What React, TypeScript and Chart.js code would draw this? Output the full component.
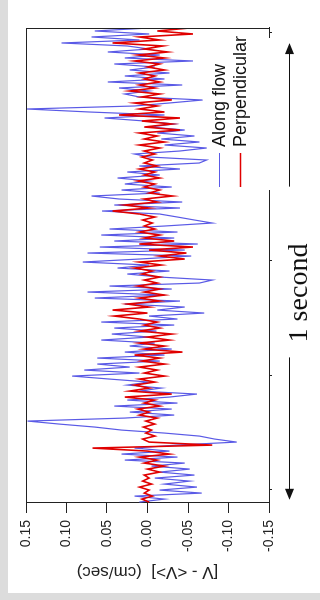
import React, { useEffect, useRef } from "react";
import { Chart, registerables } from "chart.js";

Chart.register(...registerables);

// ---- data -------------------------------------------------------------
const TIME_START = -0.028; // s, first sample
const SAMPLE_STEP = 0.00657; // s, sampling interval

const alongFlow = [
  0.010, -0.021, 0.016, -0.067, -0.015, -0.061, -0.021, -0.052, -0.009, -0.058,
  -0.015, -0.052, -0.005, -0.046, 0.028, -0.037, 0.032, -0.027, 0.016, -0.036,
  -0.110, -0.083, -0.064, -0.021, 0.032, 0.065, 0.109, 0.148, 0.028, -0.033,
  0.022, -0.030, 0.041, -0.037, 0.025, -0.027, -0.061, 0.010, -0.017, 0.025,
  -0.002, 0.047, 0.093, 0.010, 0.078, 0.022, 0.062, -0.015, 0.062, -0.021,
  0.028, -0.030, 0.022, -0.009, 0.057, -0.002, 0.044, -0.011, 0.041, -0.033,
  0.057, -0.037, -0.002, -0.070, -0.012, -0.046, 0.028, -0.040, 0.065, -0.021,
  0.074, -0.030, 0.047, -0.064, -0.080, -0.015, 0.025, -0.027, 0.037, -0.002,
  0.080, 0.010, -0.054, 0.074, -0.046, 0.059, -0.062, 0.041, -0.033, 0.057,
  -0.037, 0.047, -0.021, -0.080, -0.058, -0.037, -0.015, 0.056, -0.040, 0.041,
  -0.043, 0.035, 0.069, -0.015, 0.032, -0.030, 0.028, -0.002, 0.037, -0.015,
  0.025, -0.040, 0.010, -0.064, -0.073, -0.002, 0.016, -0.040, -0.073, -0.021,
  -0.064, -0.017, -0.058, -0.012, -0.046, -0.002, -0.033, 0.004, 0.053, -0.021,
  0.072, 0.149, 0.016, -0.027, -0.068, 0.010, 0.028, -0.002, 0.035, -0.043,
  0.049, -0.021, 0.028, -0.027, 0.022, -0.009, 0.041, -0.056, 0.028, -0.015,
  0.049, -0.002, 0.025, 0.106, 0.010, 0.069, -0.002, 0.065, -0.002,
];

const perpendicular = [
  -0.002, 0.007, -0.006, 0.004, -0.002, 0.010, -0.005, 0.006, -0.002, 0.004,
  -0.015, 0.000, -0.021, 0.004, -0.012, 0.010, -0.027, 0.000, 0.068, -0.080,
  -0.002, 0.006, -0.009, 0.002, -0.005, 0.005, -0.009, 0.002, -0.012, 0.010,
  -0.002, 0.012, -0.015, 0.004, -0.009, 0.028, -0.030, 0.022, -0.002, 0.016,
  -0.009, 0.010, -0.021, 0.004, -0.012, 0.010, -0.021, 0.007, -0.015, 0.016,
  -0.043, 0.004, -0.021, 0.010, -0.027, 0.000, -0.030, 0.010, -0.015, 0.004,
  -0.012, 0.010, 0.041, 0.000, 0.043, -0.002, 0.025, -0.015, 0.010, -0.021,
  0.004, -0.015, 0.012, -0.012, 0.004, -0.015, 0.007, -0.006, 0.016, -0.017,
  0.010, -0.046, -0.015, -0.048, -0.002, -0.056, 0.010, -0.033, 0.004, -0.015,
  0.010, -0.009, 0.004, -0.006, 0.006, -0.009, 0.010, 0.043, -0.002, 0.028,
  -0.012, 0.004, -0.031, -0.002, -0.015, 0.004, -0.009, 0.012, -0.015, 0.004,
  -0.009, 0.010, -0.012, 0.004, -0.006, 0.007, -0.009, 0.004, -0.015, 0.010,
  -0.021, 0.004, -0.012, 0.010, -0.040, 0.004, -0.030, 0.007, -0.040, 0.035,
  -0.021, 0.010, -0.012, 0.016, -0.030, 0.007, -0.015, 0.022, -0.009, 0.010,
  -0.015, 0.004, -0.009, 0.010, -0.021, 0.000, -0.015, 0.016, -0.021, 0.012,
  -0.025, 0.004, -0.019, 0.043, -0.015, 0.010, -0.056, -0.012, -0.052,
];

const seriesLabels = ["Along flow", "Perpendicular"];
const seriesColors = ["#5a5ae6", "#e00000"];
const valueTicks = [0.15, 0.1, 0.05, 0, -0.05, -0.1, -0.15];
const timeTicks = [0, 0.25, 0.5, 0.75, 1.0];
const valueAxisTitle = "[V - <V>]  (cm/sec)";
const scaleBarLabel = "1 second";
const scaleBarStart = -0.023; // s
const scaleBarEnd = 0.977; // s

// ---- chart ------------------------------------------------------------
const W = 593;
const H = 312;
const INK = "#222";

const overlayPlugin = {
  id: "overlay",
  afterDraw(chart: any) {
    const { ctx, chartArea: a, scales } = chart;
    const xs = scales.x;
    ctx.save();
    // remaining frame sides
    ctx.strokeStyle = INK;
    ctx.lineWidth = 1;
    ctx.beginPath();
    ctx.moveTo(a.left, a.top + 0.5);
    ctx.lineTo(a.right, a.top + 0.5);
    ctx.moveTo(a.right - 0.5, a.top);
    ctx.lineTo(a.right - 0.5, a.bottom);
    ctx.stroke();

    // legend box
    ctx.fillStyle = "#fff";
    ctx.fillRect(403, 203, 152, 64);
    ctx.font = '18px "Liberation Sans", Arial, sans-serif';
    ctx.textBaseline = "middle";
    ctx.textAlign = "left";
    seriesLabels.forEach((lab, i) => {
      const v = 211 + 21 * i;
      ctx.strokeStyle = seriesColors[i];
      ctx.lineWidth = i === 0 ? 1 : 1.5;
      ctx.beginPath();
      ctx.moveTo(406, v + 0.5);
      ctx.lineTo(440, v + 0.5);
      ctx.stroke();
      ctx.fillStyle = "#111";
      ctx.fillText(lab, 446, v + 1);
    });

    // "1 second" scale bar
    ctx.font = '28px "Liberation Serif", "Times New Roman", serif';
    ctx.textAlign = "center";
    ctx.textBaseline = "alphabetic";
    ctx.fillStyle = "#111";
    const cx = 300;
    const tw = ctx.measureText(scaleBarLabel).width;
    ctx.fillText(scaleBarLabel, cx, 299);
    const av = 281.5;
    const p0 = xs.getPixelForValue(scaleBarStart);
    const p1 = xs.getPixelForValue(scaleBarEnd);
    ctx.strokeStyle = "#111";
    ctx.lineWidth = 1;
    ctx.beginPath();
    ctx.moveTo(cx - tw / 2 - 15, av);
    ctx.lineTo(p0 + 8, av);
    ctx.moveTo(cx + tw / 2 + 57, av);
    ctx.lineTo(p1 - 8, av);
    ctx.stroke();
    ctx.beginPath();
    ctx.moveTo(p0, av);
    ctx.lineTo(p0 + 11, av - 4.5);
    ctx.lineTo(p0 + 11, av + 4.5);
    ctx.closePath();
    ctx.moveTo(p1, av);
    ctx.lineTo(p1 - 11, av - 4.5);
    ctx.lineTo(p1 - 11, av + 4.5);
    ctx.closePath();
    ctx.fill();
    ctx.restore();
  },
};

export default function App() {
  const ref = useRef<HTMLCanvasElement | null>(null);

  useEffect(() => {
    if (!ref.current) return;
    const toPoints = (arr: number[]) =>
      arr.map((v, i) => ({ x: TIME_START + i * SAMPLE_STEP, y: v }));
    const chart = new Chart(ref.current, {
      type: "line",
      data: {
        datasets: [
          {
            label: seriesLabels[0],
            data: toPoints(alongFlow),
            borderColor: seriesColors[0],
            borderWidth: 1.2,
            pointRadius: 0,
            tension: 0,
            order: 2,
          },
          {
            label: seriesLabels[1],
            data: toPoints(perpendicular),
            borderColor: seriesColors[1],
            borderWidth: 1.6,
            pointRadius: 0,
            tension: 0,
            order: 1,
          },
        ],
      },
      options: {
        animation: false,
        responsive: false,
        devicePixelRatio: 1,
        events: [],
        layout: { padding: { top: 18, right: 28, left: 0, bottom: 0 } },
        plugins: {
          legend: { display: false },
          tooltip: { enabled: false },
        },
        scales: {
          x: {
            type: "linear",
            min: -0.03,
            max: 1.01,
            afterBuildTicks: (s: any) => {
              s.ticks = timeTicks.map((v) => ({ value: v }));
            },
            afterFit: (s: any) => {
              s.height = 51;
            },
            ticks: { display: false },
            grid: {
              drawOnChartArea: false,
              drawTicks: true,
              tickLength: 3,
              color: INK,
            },
            border: { display: true, color: INK, width: 1 },
          },
          y: {
            type: "linear",
            min: -0.15,
            max: 0.15,
            afterBuildTicks: (s: any) => {
              s.ticks = valueTicks.map((v) => ({ value: v }));
            },
            afterFit: (s: any) => {
              s.width = 90;
            },
            ticks: {
              padding: 7,
              color: INK,
              font: { family: '"Liberation Sans", Arial, sans-serif', size: 14 },
              callback: (v: any) => Number(v).toFixed(2),
            },
            grid: {
              drawOnChartArea: false,
              drawTicks: true,
              tickLength: 10,
              color: INK,
            },
            border: { display: true, color: INK, width: 1 },
            title: {
              display: true,
              text: valueAxisTitle,
              color: INK,
              padding: { top: 11, bottom: 0 },
              font: { family: '"Liberation Sans", Arial, sans-serif', size: 17 },
            },
          },
        },
      },
      plugins: [overlayPlugin],
    });
    return () => chart.destroy();
  }, []);

  return (
    <div
      style={{
        position: "fixed",
        left: 0,
        top: 0,
        width: 320,
        height: 600,
        background: "#dcdcdc",
        overflow: "hidden",
      }}
    >
      <div
        style={{
          position: "absolute",
          left: 8,
          top: 0,
          width: 312,
          height: 593,
          background: "#fff",
        }}
      />
      <div
        style={{
          position: "absolute",
          left: 8,
          top: 0,
          width: W,
          height: H,
          transformOrigin: "0 0",
          transform: `translateY(${W}px) rotate(-90deg)`,
        }}
      >
        <canvas ref={ref} width={W} height={H} style={{ display: "block" }} />
      </div>
    </div>
  );
}
